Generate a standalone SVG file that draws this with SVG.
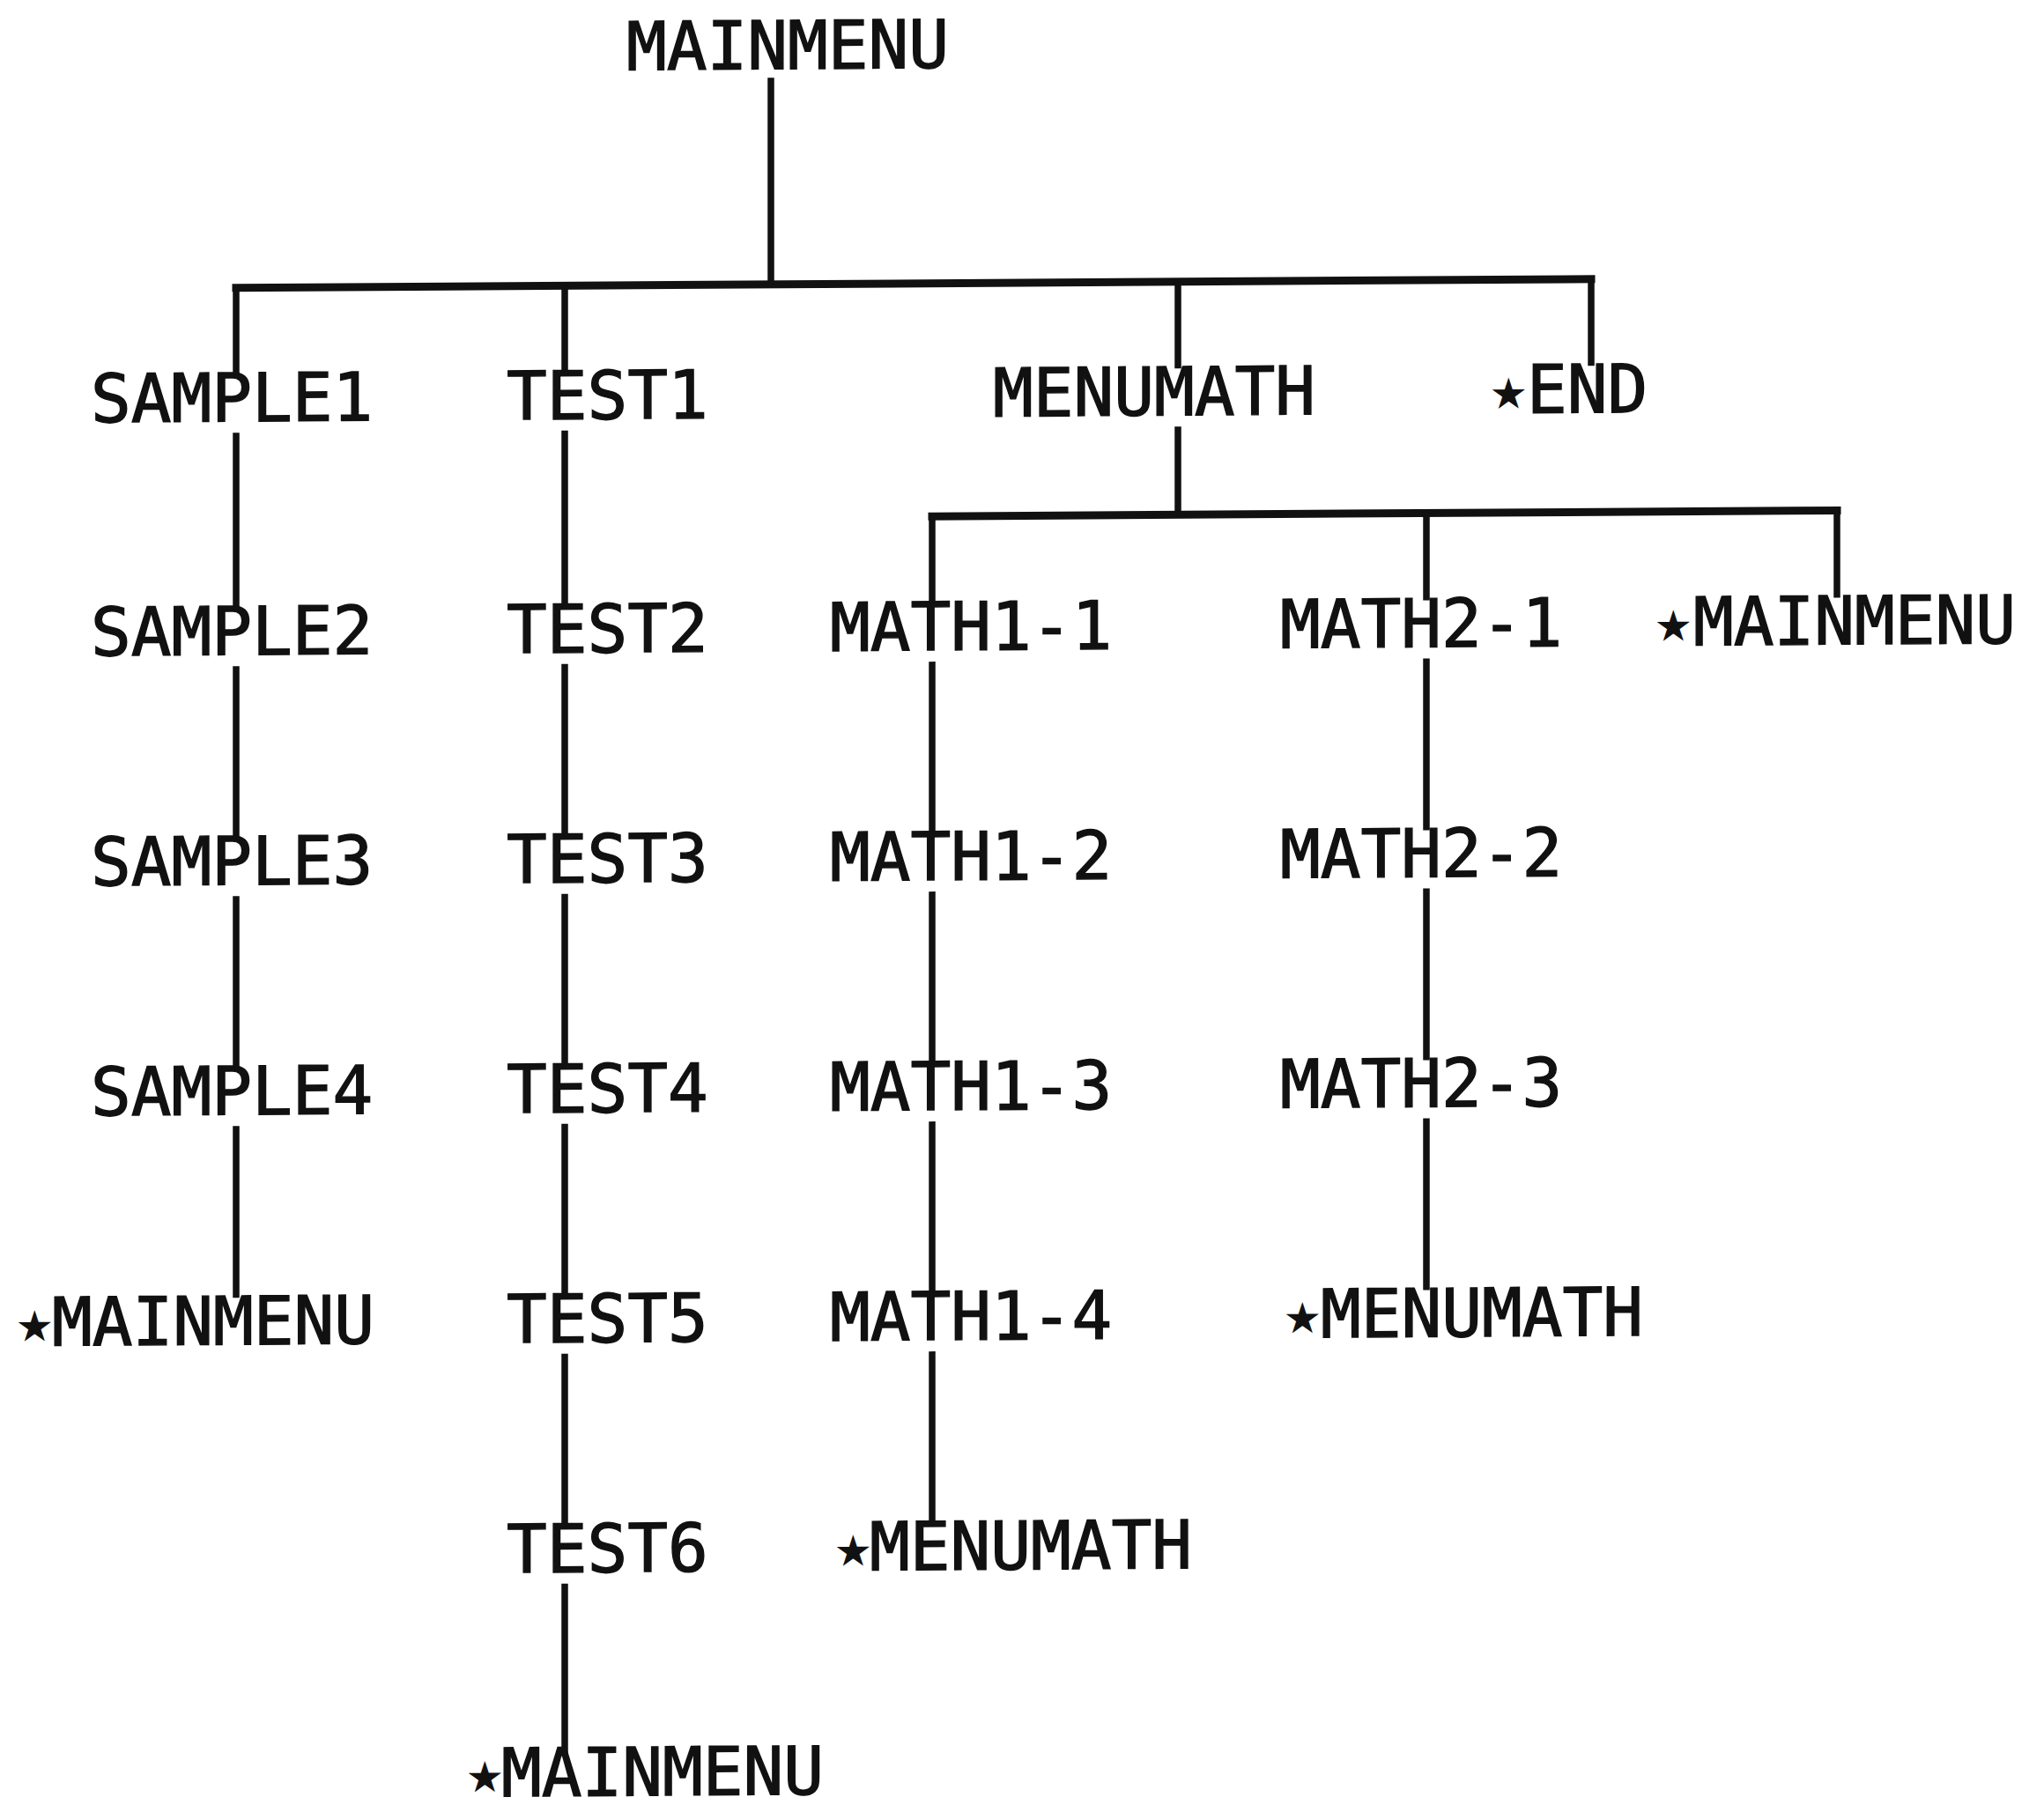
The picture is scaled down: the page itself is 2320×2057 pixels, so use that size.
<svg xmlns="http://www.w3.org/2000/svg" width="2320" height="2057" viewBox="0 0 2320 2057">
  <style>
    .lbl { font-family: "DejaVu Sans Mono", "Liberation Mono", monospace; font-size: 76px; fill: #111; stroke: #111; stroke-width: 1.4px; }
    .star { font-family: "DejaVu Sans", sans-serif; font-size: 43px; }
    .wire { fill: none; stroke: #111; stroke-width: 7.5; stroke-linecap: butt; }
    .bus { fill: none; stroke: #111; stroke-width: 9; stroke-linecap: square; }
  </style>
  <rect width="2320" height="2057" fill="#fff"/>
  <!-- the whole chart is printed with a slight upward tilt to the right -->
  <g transform="skewY(-0.372)">
    <g id="connectors">
      <!-- MAINMENU to first level -->
      <line class="wire" x1="875" y1="94" x2="875" y2="328.5"/>
      <line class="bus" x1="268" y1="328.5" x2="1806" y2="328.5"/>
      <line class="wire" x1="268" y1="328.5" x2="268" y2="427"/>
      <line class="wire" x1="641" y1="328.5" x2="641" y2="427"/>
      <line class="wire" x1="1337" y1="328.5" x2="1337" y2="427"/>
      <line class="wire" x1="1806" y1="328.5" x2="1806" y2="427"/>
      <!-- MENUMATH to second level -->
      <line class="wire" x1="1337" y1="493" x2="1337" y2="593"/>
      <line class="bus" x1="1058" y1="593" x2="2085" y2="593"/>
      <line class="wire" x1="1058" y1="593" x2="1058" y2="692"/>
      <line class="wire" x1="1619" y1="593" x2="1619" y2="692"/>
      <line class="wire" x1="2085" y1="593" x2="2085" y2="692"/>
      <!-- SAMPLE chain -->
      <line class="wire" x1="268" y1="493" x2="268" y2="692"/>
      <line class="wire" x1="268" y1="758" x2="268" y2="953"/>
      <line class="wire" x1="268" y1="1019" x2="268" y2="1214"/>
      <line class="wire" x1="268" y1="1280" x2="268" y2="1475"/>
      <!-- TEST chain -->
      <line class="wire" x1="641" y1="493" x2="641" y2="692"/>
      <line class="wire" x1="641" y1="758" x2="641" y2="953"/>
      <line class="wire" x1="641" y1="1019" x2="641" y2="1214"/>
      <line class="wire" x1="641" y1="1280" x2="641" y2="1475"/>
      <line class="wire" x1="641" y1="1541" x2="641" y2="1736"/>
      <line class="wire" x1="641" y1="1802" x2="641" y2="1998"/>
      <!-- MATH1 chain -->
      <line class="wire" x1="1058" y1="758" x2="1058" y2="953"/>
      <line class="wire" x1="1058" y1="1019" x2="1058" y2="1214"/>
      <line class="wire" x1="1058" y1="1280" x2="1058" y2="1475"/>
      <line class="wire" x1="1058" y1="1541" x2="1058" y2="1736"/>
      <!-- MATH2 chain -->
      <line class="wire" x1="1619" y1="758" x2="1619" y2="953"/>
      <line class="wire" x1="1619" y1="1019" x2="1619" y2="1214"/>
      <line class="wire" x1="1619" y1="1280" x2="1619" y2="1475"/>
    </g>

    <g id="mainmenu"><text class="lbl" x="711" y="84">MAINMENU</text></g>

    <g id="sample1"><text class="lbl" x="103" y="480">SAMPLE1</text></g>
    <g id="sample2"><text class="lbl" x="103" y="745">SAMPLE2</text></g>
    <g id="sample3"><text class="lbl" x="103" y="1006">SAMPLE3</text></g>
    <g id="sample4"><text class="lbl" x="103" y="1267">SAMPLE4</text></g>
    <g id="sample-return"><text class="lbl"><tspan class="star" x="20" y="1521">★</tspan><tspan x="59" y="1528">MAINMENU</tspan></text></g>

    <g id="test1"><text class="lbl" x="575" y="480">TEST1</text></g>
    <g id="test2"><text class="lbl" x="575" y="745">TEST2</text></g>
    <g id="test3"><text class="lbl" x="575" y="1006">TEST3</text></g>
    <g id="test4"><text class="lbl" x="575" y="1267">TEST4</text></g>
    <g id="test5"><text class="lbl" x="575" y="1528">TEST5</text></g>
    <g id="test6"><text class="lbl" x="575" y="1789">TEST6</text></g>
    <g id="test-return"><text class="lbl"><tspan class="star" x="531" y="2036">★</tspan><tspan x="569" y="2043">MAINMENU</tspan></text></g>

    <g id="menumath"><text class="lbl" x="1127" y="480">MENUMATH</text></g>
    <g id="end"><text class="lbl"><tspan class="star" x="1693" y="473">★</tspan><tspan x="1733" y="480">END</tspan></text></g>

    <g id="math1-1"><text class="lbl" x="942" y="745">MATH1-1</text></g>
    <g id="math1-2"><text class="lbl" x="942" y="1006">MATH1-2</text></g>
    <g id="math1-3"><text class="lbl" x="942" y="1267">MATH1-3</text></g>
    <g id="math1-4"><text class="lbl" x="942" y="1528">MATH1-4</text></g>
    <g id="math1-return"><text class="lbl"><tspan class="star" x="949" y="1782">★</tspan><tspan x="987" y="1789">MENUMATH</tspan></text></g>

    <g id="math2-1"><text class="lbl" x="1453" y="745">MATH2-1</text></g>
    <g id="math2-2"><text class="lbl" x="1453" y="1006">MATH2-2</text></g>
    <g id="math2-3"><text class="lbl" x="1453" y="1267">MATH2-3</text></g>
    <g id="math2-return"><text class="lbl"><tspan class="star" x="1459" y="1521">★</tspan><tspan x="1499" y="1528">MENUMATH</tspan></text></g>

    <g id="menumath-return"><text class="lbl"><tspan class="star" x="1880" y="738">★</tspan><tspan x="1922" y="745">MAINMENU</tspan></text></g>
  </g>
</svg>
